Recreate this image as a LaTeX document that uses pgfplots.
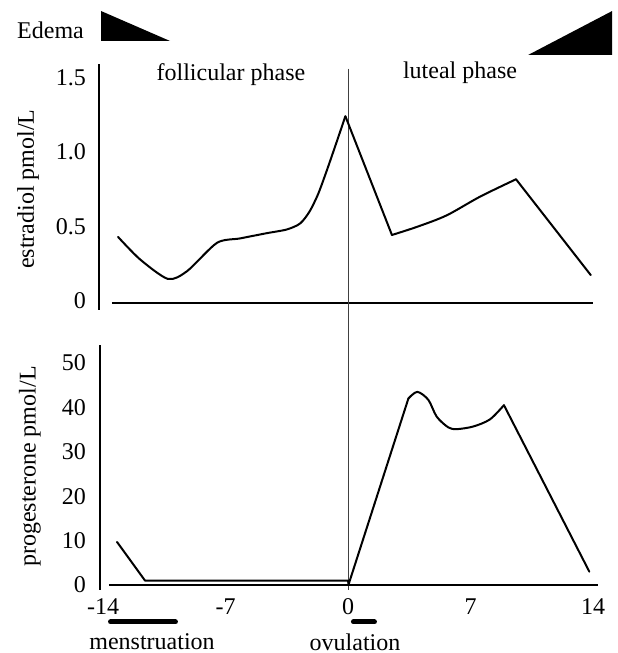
\documentclass[12pt,border=0pt]{standalone}
\usepackage{fontspec}
\setmainfont{Liberation Serif}
\usepackage{pgfplots}
\pgfplotsset{compat=1.18}

% shared x mapping for both panels (day of cycle)
\pgfplotsset{
  cyc/.style={
    x=8.75pt, xmin=-14.5, xmax=14.5,
    axis line style={draw=none},
    major tick length=0pt,
    clip=false,
    anchor=south west,
  },
  curve/.style={black, line width=1pt, line join=round, line cap=round, mark=none},
}

\begin{document}
\begin{tikzpicture}
% ---------------- estradiol ----------------
\begin{axis}[cyc, at={(0,0)},
  y=74.5pt, ymin=-0.1, ymax=1.6,
  xtick=\empty,
  ytick={0,0.5,1,1.5}, yticklabels={0,0.5,1.0,1.5},
  ylabel={estradiol pmol/L},
  ylabel style={at={(axis description cs:-0.1305,0.5)}, anchor=center},
]
\draw[line width=1pt] (-14.23,1.59) -- (-14.23,-0.06);
\draw[line width=1pt] (-13.49,-0.013) -- (14.02,-0.013);
\draw[black!75, line width=0.5pt] (0,1.56) -- (0,-1.94);

% follicular part (smooth), then straight drop, luteal rise, straight fall
\addplot[curve, smooth, tension=0.45] coordinates {
  (-13.14,0.43) (-11.89,0.28) (-10.29,0.148)
  (-9.2,0.2) (-7.49,0.39)
  (-6.17,0.42) (-4.65,0.455) (-3.5,0.48) (-2.74,0.52) (-2.2,0.6)
  (-1.7,0.72) (-1.2,0.88) (-0.7,1.05) (-0.15,1.24)
};
\addplot[curve] coordinates {(-0.15,1.24) (2.51,0.443)};
\addplot[curve, smooth, tension=0.5] coordinates {
  (2.51,0.443) (4.0,0.50) (5.64,0.575) (7.54,0.70) (9.6,0.817)
};
\addplot[curve] coordinates {(9.6,0.817) (13.87,0.174)};

\node at (-6.69,1.52) {follicular phase};
\node at (6.4,1.53) {luteal phase};
\node at (-17.0,1.82) {Edema};
\fill (-14.11,1.946) -- (-14.11,1.745) -- (-10.17,1.745) -- cycle;
\fill (10.29,1.651) -- (15.09,1.946) -- (15.09,1.651) -- cycle;

\coordinate (TL) at (-19.886,2.0201);
\end{axis}

% ---------------- progesterone ----------------
\begin{axis}[cyc, at={(0,-137.21pt)},
  y=2.22pt, ymin=-1.2, ymax=54.5,
  xtick={-14,-7,0,7,14}, xticklabels={-14,-7,0,7,14},
  ytick={0,10,20,30,40,50}, yticklabels={0,10,20,30,40,50},
  ylabel={progesterone pmol/L},
  ylabel style={at={(axis description cs:-0.127,0.5)}, anchor=center},
]
\draw[line width=1pt] (-14.17,54.05) -- (-14.17,-1.13);
\draw[line width=1pt] (-13.66,0) -- (14.29,0);

\addplot[curve] coordinates {
  (-13.2,9.7) (-11.6,1.0) (0,1.0) (0.03,0.1) (3.45,42.0)
};
\addplot[curve, smooth, tension=0.5] coordinates {
  (3.45,42.0) (3.96,43.5) (4.59,41.7) (5.07,37.9) (5.73,35.5)
  (6.21,35.1) (7.16,35.7) (8.11,37.3) (8.91,40.5)
};
\addplot[curve] coordinates {(8.91,40.5) (13.79,3.0)};

% menstruation and ovulation bars
\addplot[black, line width=2.5pt, line cap=round] coordinates {(-13.57,-8.33) (-9.86,-8.33)};
\addplot[black, line width=2.5pt, line cap=round] coordinates {(0.31,-8.33) (1.51,-8.33)};
\node at (-11.2,-12.84) {menstruation};
\node at (0.4,-12.84) {ovulation};

\coordinate (BR) at (15.371,-15.315);
\end{axis}

\pgfresetboundingbox
\path[use as bounding box] (TL) rectangle (BR);
\end{tikzpicture}
\end{document}
